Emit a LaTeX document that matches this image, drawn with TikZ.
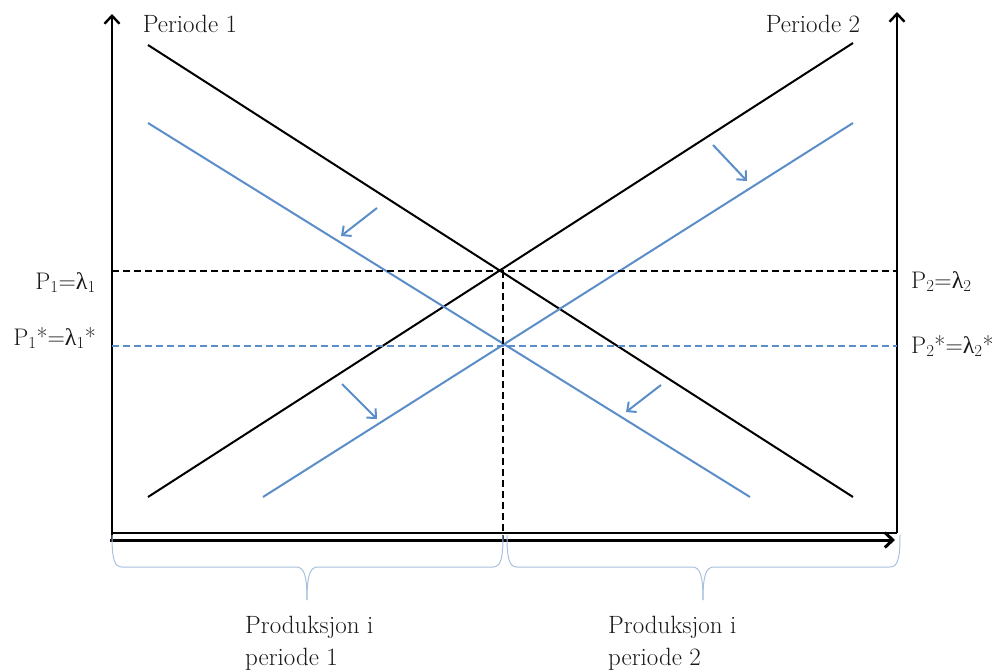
\documentclass[tikz,border=0pt]{standalone}
\usepackage{fontspec}
\newfontfamily\gk{Liberation Serif}
\usetikzlibrary{arrows.meta}
\definecolor{cblue}{RGB}{91,141,201}
\definecolor{cbrace}{RGB}{168,194,222}
\newcommand{\lam}{{\gk λ}}
\begin{document}
\begin{tikzpicture}[x=1pt,y=-1pt,
  every node/.style={font=\fontsize{25}{31}\selectfont, inner sep=0pt, text=black!90},
  plabel/.style={font=\fontsize{24}{30}\selectfont},
  axisline/.style={line width=2.4pt, -{Straight Barb[length=8pt,width=15pt]}},
  blackline/.style={line width=2pt, black},
  blueline/.style={line width=2pt, cblue},
  blackdash/.style={line width=1.8pt, black, dash pattern=on 7pt off 4pt},
  bluedash/.style={line width=1.8pt, cblue, dash pattern=on 7pt off 4pt},
  shiftarrow/.style={line width=2pt, cblue, -{Straight Barb[length=7pt,width=13pt]}},
  bracestyle/.style={line width=1pt, cbrace},
]
\useasboundingbox (0,0) rectangle (997,672);

% coordinates
\coordinate (LB) at (112,540);
\coordinate (LT) at (112,14);
\coordinate (RB) at (897,533);
\coordinate (RT) at (897,12);
\coordinate (HL) at (112,533);
\coordinate (XA) at (110,540);
\coordinate (XB) at (895,540);

% axes
\draw[axisline] (LB) -- (LT);
\draw[axisline] (RB) -- (RT);
\draw[line width=2pt] (HL) -- (RB);
\draw[line width=3pt, -{Straight Barb[length=8pt,width=15pt]}] (XA) -- (XB);

% demand/supply curves
\coordinate (D1a) at (148,45);  \coordinate (D1b) at (853,497);
\coordinate (S1a) at (148,497); \coordinate (S1b) at (853,43);
\coordinate (D2a) at (148,123); \coordinate (D2b) at (750,497);
\coordinate (S2a) at (263,497); \coordinate (S2b) at (853,123);
\draw[blackline] (D1a) -- (D1b);
\draw[blackline] (S1a) -- (S1b);
\draw[blueline] (D2a) -- (D2b);
\draw[blueline] (S2a) -- (S2b);

% dashed lines
\coordinate (PL) at (112,271); \coordinate (PR) at (897,271);
\coordinate (QL) at (112,346); \coordinate (QR) at (897,346);
\coordinate (VT) at (503,271); \coordinate (VB) at (503,540);
\draw[blackdash] (PL) -- (PR);
\draw[bluedash] (QL) -- (QR);
\draw[blackdash] (VT) -- (VB);

% shift arrows
\coordinate (A1s) at (377,208); \coordinate (A1e) at (341,236);
\coordinate (A2s) at (342,384); \coordinate (A2e) at (377,419);
\coordinate (A3s) at (713,145); \coordinate (A3e) at (747,181);
\coordinate (A4s) at (661,385); \coordinate (A4e) at (626,412);
\draw[shiftarrow] (A1s) -- (A1e);
\draw[shiftarrow] (A2s) -- (A2e);
\draw[shiftarrow] (A3s) -- (A3e);
\draw[shiftarrow] (A4s) -- (A4e);

% braces
\coordinate (B1l) at (112,535); \coordinate (B1r) at (503,535); \coordinate (B1t) at (307,600);
\coordinate (B2l) at (507,535); \coordinate (B2r) at (900,535); \coordinate (B2t) at (703,600);
\draw[bracestyle] (B1l) .. controls (112,558) and (114,567) .. (122,567) -- (296,567)
  .. controls (304,567) and (307,575) .. (B1t);
\draw[bracestyle] (B1r) .. controls (503,558) and (501,567) .. (493,567) -- (318,567)
  .. controls (310,567) and (307,575) .. (B1t);
\draw[bracestyle] (B2l) .. controls (507,558) and (509,567) .. (517,567) -- (692,567)
  .. controls (700,567) and (703,575) .. (B2t);
\draw[bracestyle] (B2r) .. controls (900,558) and (898,567) .. (890,567) -- (714,567)
  .. controls (706,567) and (703,575) .. (B2t);

% labels
\node[anchor=base] (per1) at (190,32) {Periode 1};
\node[anchor=base] (per2) at (813,32) {Periode 2};
\node[plabel, anchor=base east] (p1) at (96,289) {P\textsubscript{1}=\lam\textsubscript{1}};
\node[plabel, anchor=base east] (p1s) at (96,345) {P\textsubscript{1}*=\lam\textsubscript{1}*};
\node[plabel, anchor=base west] (p2) at (911,288) {P\textsubscript{2}=\lam\textsubscript{2}};
\node[plabel, anchor=base west] (p2s) at (911,353) {P\textsubscript{2}*=\lam\textsubscript{2}*};
\node[anchor=base west] (prod1a) at (245,633) {Produksjon i};
\node[anchor=base west] (prod1b) at (245,665) {periode 1};
\node[anchor=base west] (prod2a) at (608,633) {Produksjon i};
\node[anchor=base west] (prod2b) at (608,665) {periode 2};
\end{tikzpicture}
\end{document}
